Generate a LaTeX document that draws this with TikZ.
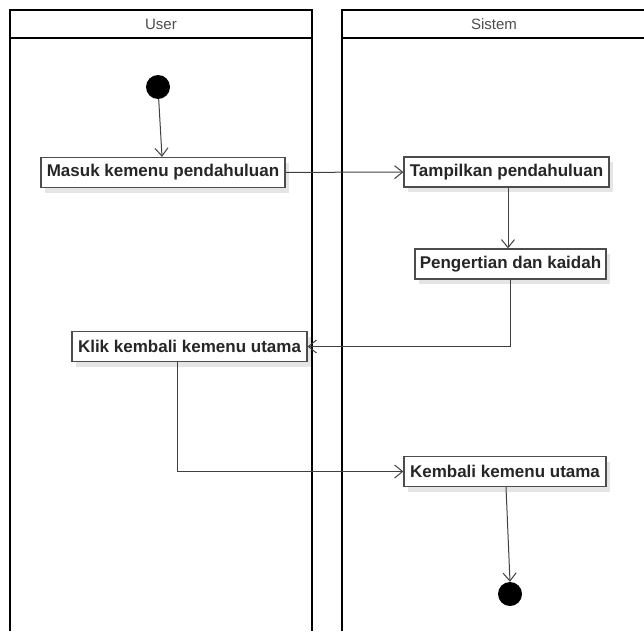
\documentclass[tikz,border=0pt]{standalone}
\usepackage{fontspec}
\setmainfont{Liberation Sans}
\usetikzlibrary{arrows.meta,shadows}
\begin{document}
\begin{tikzpicture}[x=1pt,y=-1pt,
  lane/.style={draw=black,line width=1.8pt},
  lanetitle/.style={font=\fontsize{15}{17}\selectfont,text=black!70},
  act/.style={draw=black!70,line width=1.3pt,fill=white,font=\bfseries\fontsize{17}{19}\selectfont,text=black!85,inner sep=0pt,minimum height=30pt,
    drop shadow={shadow xshift=4pt,shadow yshift=-5pt,fill=black!10,opacity=1}},
  dot/.style={circle,fill=black,inner sep=0pt,minimum size=24pt},
  flow/.style={draw=black!75,line width=1pt,-{Straight Barb[length=8pt,width=13pt,line width=1pt]}}]
\useasboundingbox (0,0) rectangle (644,631);
% lanes
\draw[lane] (10,631) -- (10,10) -- (312,10) -- (312,631);
\draw[lane] (10,38) -- (312,38);
\draw[lane] (342,631) -- (342,10) -- (646,10);
\draw[lane] (342,38) -- (646,38);
\node[lanetitle] (tuser) at (161,24) {User};
\node[lanetitle] (tsis) at (494,24) {Sistem};
% nodes
\node[dot] (start) at (158,87) {};
\node[act,minimum width=244pt] (masuk) at (163,172.5) {Masuk kemenu pendahuluan};
\node[act,minimum width=205pt] (tampil) at (506.5,172) {Tampilkan pendahuluan};
\node[act,minimum width=191pt] (peng) at (510.5,264) {Pengertian dan kaidah};
\node[act,minimum width=235pt] (klik) at (189.5,346.5) {Klik kembali kemenu utama};
\node[act,minimum width=202pt] (kemb) at (505,471.5) {Kembali kemenu utama};
\node[dot] (end) at (510,594) {};
% flows
\draw[flow] (start) -- (masuk.north -| 162,0);
\draw[flow] (masuk) -- (tampil);
\draw[flow] (tampil.south -| 508,0) -- (peng.north -| 508,0);
\draw[flow] (peng.south -| 510,0) |- (klik.east);
\draw[flow] (klik.south -| 177,0) |- (kemb.west);
\draw[flow] (kemb.south -| 506,0) -- (end.north);
\end{tikzpicture}
\end{document}
